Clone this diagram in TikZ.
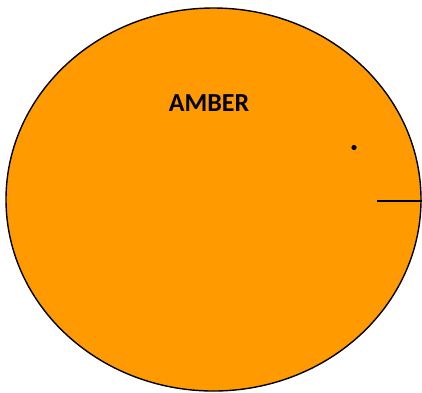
\documentclass[tikz,border=0pt]{standalone}
\usepackage{fontspec}
\setmainfont{Carlito}
\usetikzlibrary{shapes.geometric}
\definecolor{amberfill}{RGB}{255,155,0}
\tikzset{
  body/.style={ellipse, draw=black, line width=1.4pt, fill=amberfill, minimum width=415pt, minimum height=383pt, inner sep=0pt},
  lbl/.style={font=\fontsize{26}{30}\selectfont\bfseries, text=black, inner sep=0pt},
  tick/.style={draw=black, line width=2pt},
  spot/.style={fill=black}
}
\begin{document}
\begin{tikzpicture}[x=1pt,y=-1pt]
\useasboundingbox (0,0) rectangle (422,392);
\node[body] (amber) at (213.5,199.5) {};
\node[lbl] (name) at (209,103) {AMBER};
\coordinate (dot) at (354,147.5);
\fill[spot] (dot) circle (2.6pt);
\coordinate (tickstart) at (377,201);
\draw[tick] (tickstart) -- (tickstart -| amber.east);
\end{tikzpicture}
\end{document}
